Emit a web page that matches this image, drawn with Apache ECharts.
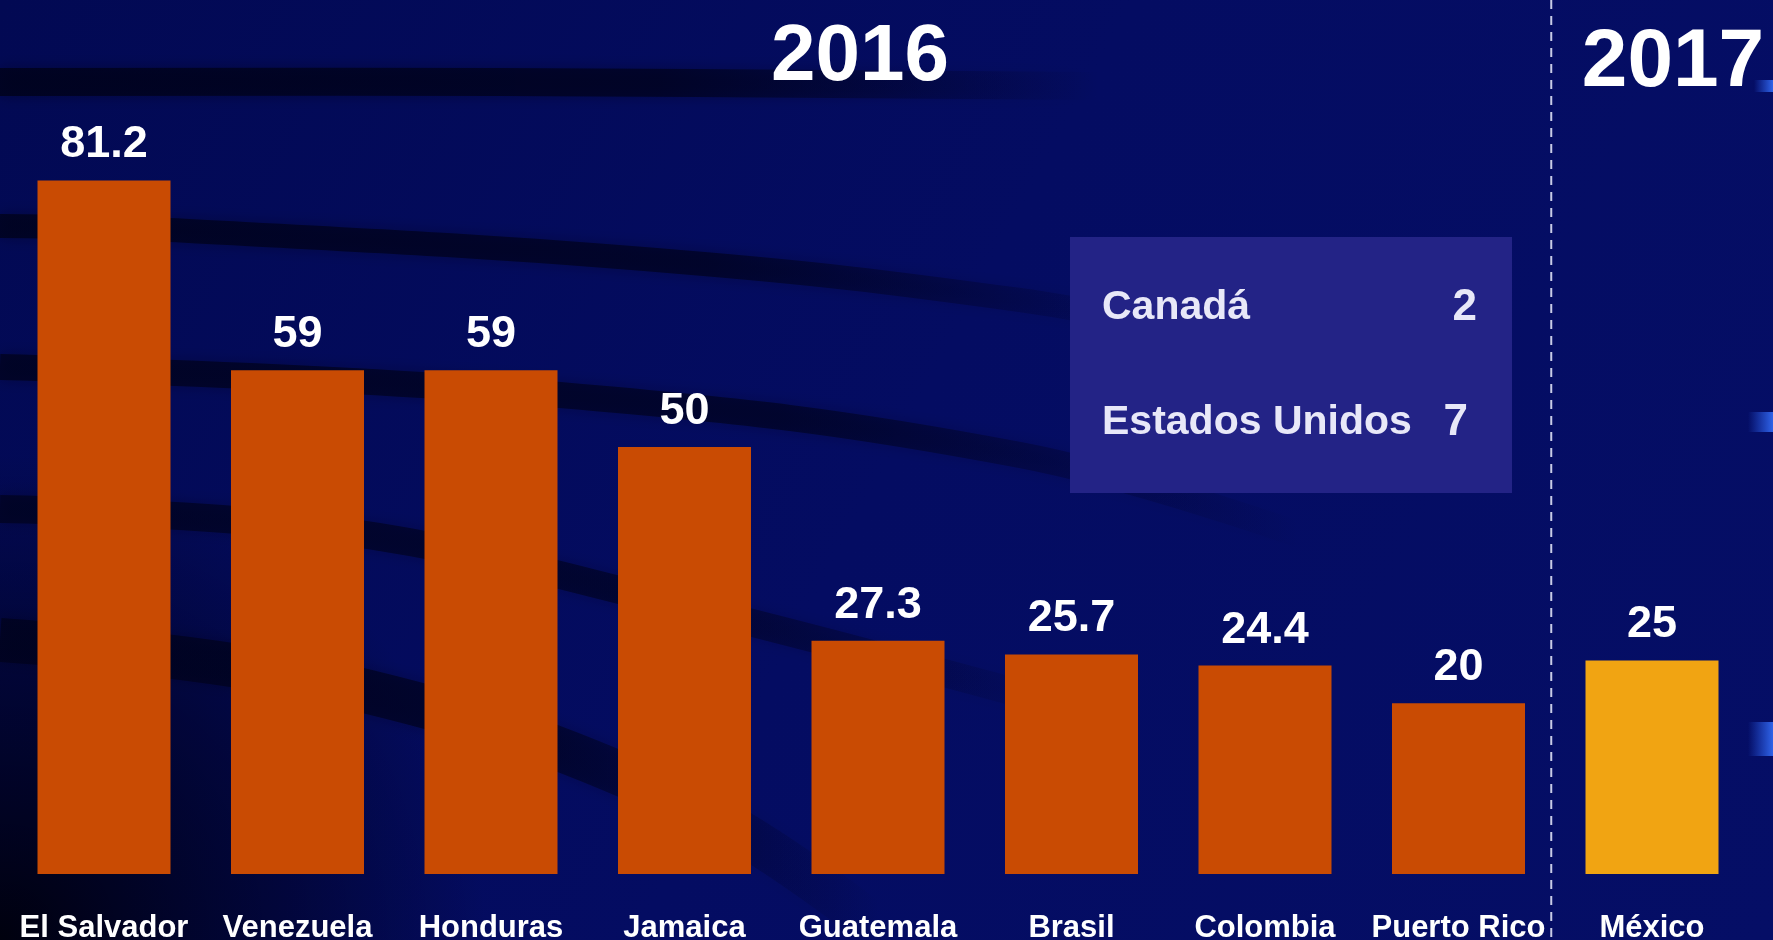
<!DOCTYPE html>
<html>
<head>
<meta charset="utf-8">
<script src="https://cdn.jsdelivr.net/npm/echarts@6/dist/echarts.min.js"></script>
<style>
html,body{margin:0;padding:0;background:#03095c;}
#chart{width:1773px;height:940px;}
</style>
</head>
<body>
<div id="chart"></div>
<script>
// ---- data ----
var categories = ['El Salvador','Venezuela','Honduras','Jamaica','Guatemala','Brasil','Colombia','Puerto Rico','México'];
var values = [81.2, 59, 59, 50, 27.3, 25.7, 24.4, 20, 25];
var categoryYear = ['2016','2016','2016','2016','2016','2016','2016','2016','2017'];
var yearLabels = ['2016','2017'];
var extraNames = ['Canadá','Estados Unidos'];
var extraValues = [2, 7];

// ---- styles ----
var FONT = '"Liberation Sans", Arial, sans-serif';
var yearColor = {'2016':'#c94b03','2017':'#f1a412'};

var chart = echarts.init(document.getElementById('chart'));

function darkBand(points, width, opacity){
  var endX = points[points.length-1][0];
  var grad = new echarts.graphic.LinearGradient(0,0,endX,0,[
    {offset:0,color:'rgba(0,2,28,'+opacity+')'},
    {offset:0.6,color:'rgba(0,2,28,'+(opacity*0.85)+')'},
    {offset:1,color:'rgba(0,2,28,0)'}], true);
  return {
    type:'polyline', silent:true, z:-10,
    shape:{points:points, smooth:0.4},
    style:{stroke:grad, lineWidth:width, fill:null, lineCap:'butt',
           shadowBlur:14, shadowColor:'rgba(0,2,28,'+(opacity*0.6)+')'}
  };
}

var bgGraphics = [
  {type:'rect', silent:true, z:-20, shape:{x:0,y:0,width:1773,height:940},
   style:{fill:new echarts.graphic.LinearGradient(0,0,1,1,[
     {offset:0,color:'#020953'},{offset:0.5,color:'#040c62'},{offset:1,color:'#050e66'}])}},
  {type:'rect', silent:true, z:-19, shape:{x:0,y:400,width:900,height:540},
   style:{fill:new echarts.graphic.RadialGradient(0,1,0.9,[
     {offset:0,color:'rgba(0,0,10,0.95)'},{offset:0.6,color:'rgba(0,0,20,0.45)'},{offset:1,color:'rgba(0,0,20,0)'}])}},
  darkBand([[0,82],[500,82],[1100,86]], 28, 0.85),
  darkBand([[0,226],[170,230],[680,262],[1020,300],[1180,330]], 24, 0.8),
  darkBand([[0,367],[560,395],[1020,455],[1300,535]], 26, 0.75),
  darkBand([[0,509],[340,531],[680,605],[1080,710]], 28, 0.7),
  darkBand([[0,640],[340,685],[680,800],[880,930]], 44, 0.75),
  {type:'rect', silent:true, z:-9, shape:{x:1754,y:80,width:19,height:12},
   style:{fill:new echarts.graphic.LinearGradient(0,0,1,0,[{offset:0,color:'rgba(40,90,230,0)'},{offset:1,color:'#2f63e8'}])}},
  {type:'rect', silent:true, z:-9, shape:{x:1748,y:412,width:25,height:20},
   style:{fill:new echarts.graphic.LinearGradient(0,0,1,0,[{offset:0,color:'rgba(40,90,230,0)'},{offset:1,color:'#2f63e8'}])}},
  {type:'rect', silent:true, z:-9, shape:{x:1748,y:722,width:25,height:34},
   style:{fill:new echarts.graphic.LinearGradient(0,0,1,0,[{offset:0,color:'rgba(40,90,230,0)'},{offset:1,color:'#2f63e8'}])}}
];

var option = {
  backgroundColor:'transparent',
  animation:false,
  grid:{left:7.25, right:24.25, top:20, bottom:66, containLabel:false, outerBoundsMode:'none'},
  xAxis:{
    type:'category', data:categories,
    axisLine:{show:false}, axisTick:{show:false},
    axisLabel:{color:'#ffffff', fontFamily:FONT, fontWeight:'bold', fontSize:31, margin:39, interval:0}
  },
  yAxis:{type:'value', min:0, max:100, show:false, splitLine:{show:false}},
  series:[{
    type:'bar', barWidth:133,
    data: values.map(function(v,i){ return {value:v, itemStyle:{color:yearColor[categoryYear[i]]}}; }),
    label:{show:true, position:'top', distance:13, color:'#ffffff', fontFamily:FONT, fontWeight:'bold', fontSize:45}
  }],
  graphic: bgGraphics
};
chart.setOption(option);

// year titles centred over their groups, separator between groups
function groupIdx(year){
  var idx = [];
  categoryYear.forEach(function(y,i){ if(y===year) idx.push(i); });
  return idx;
}
var g2016 = groupIdx(yearLabels[0]);
var g2017 = groupIdx(yearLabels[1]);
var lastOld = chart.convertToPixel({xAxisIndex:0}, g2016[g2016.length-1]);
var firstNew = chart.convertToPixel({xAxisIndex:0}, g2017[0]);
var sepX = (lastOld + firstNew)/2 - 4;

var extra = bgGraphics.concat([
  {type:'text', z:10, x:860, y:58,
   style:{text:yearLabels[0], fill:'#ffffff', font:'bold 80px '+FONT, textAlign:'center', textVerticalAlign:'middle'}},
  {type:'text', z:10, x:firstNew+21, y:63,
   style:{text:yearLabels[1], fill:'#ffffff', font:'bold 82px '+FONT, textAlign:'center', textVerticalAlign:'middle'}},
  {type:'line', z:5, shape:{x1:sepX, y1:0, x2:sepX, y2:940},
   style:{stroke:'#c8cbe6', lineWidth:2, lineDash:[9,7]}},
  {type:'rect', z:5, shape:{x:1070, y:237, width:442, height:256},
   style:{fill:'#232386'}},
  {type:'text', z:6, x:1102, y:308,
   style:{text:extraNames[0], fill:'#e8e8f8', font:'bold 41px '+FONT, textAlign:'left', textVerticalAlign:'middle'}},
  {type:'text', z:6, x:1477, y:308,
   style:{text:String(extraValues[0]), fill:'#e8e8f8', font:'bold 44px '+FONT, textAlign:'right', textVerticalAlign:'middle'}},
  {type:'text', z:6, x:1102, y:423,
   style:{text:extraNames[1], fill:'#e8e8f8', font:'bold 41px '+FONT, textAlign:'left', textVerticalAlign:'middle'}},
  {type:'text', z:6, x:1468, y:423,
   style:{text:String(extraValues[1]), fill:'#e8e8f8', font:'bold 44px '+FONT, textAlign:'right', textVerticalAlign:'middle'}}
]);
chart.setOption({graphic: extra}, {replaceMerge:['graphic']});
</script>
</body>
</html>
